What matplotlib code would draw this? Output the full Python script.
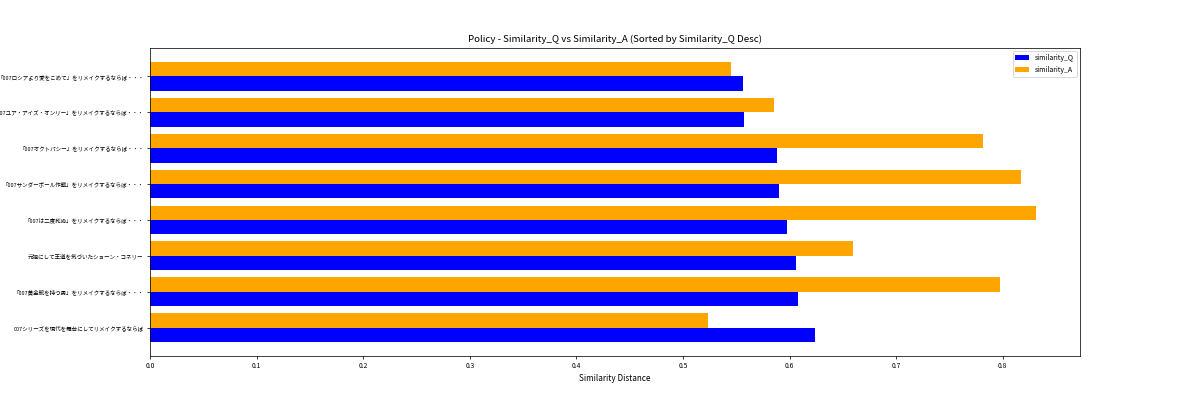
import matplotlib
matplotlib.use("Agg")
import matplotlib.pyplot as plt
import numpy as np

plt.rcParams['font.family'] = ['Noto Sans CJK JP', 'DejaVu Sans']

categories = [
    "007シリーズを現代を舞台にしてリメイクするならば",
    "「007黄金銃を持つ男」をリメイクするならば・・・",
    "元祖にして王道を気づいたショーン・コネリー",
    "「007は二度死ぬ」をリメイクするならば・・・",
    "「007サンダーボール作戦」をリメイクするならば・・・",
    "「007オクトパシー」をリメイクするならば・・・",
    "「007ユア・アイズ・オンリー」をリメイクするならば・・・",
    "「007ロシアより愛をこめて」をリメイクするならば・・・",
]
similarity_Q = [0.6241, 0.6082, 0.6063, 0.5981, 0.5903, 0.5878, 0.5577, 0.5559]
similarity_A = [0.5239, 0.7972, 0.6598, 0.8310, 0.8173, 0.7812, 0.5859, 0.5450]

fig, ax = plt.subplots(figsize=(18, 6), dpi=200/3)
y = np.arange(len(categories))
h = 0.4
ax.barh(y - h/2, similarity_Q, height=h, color='blue', label='similarity_Q')
ax.barh(y + h/2, similarity_A, height=h, color='orange', label='similarity_A')
ax.set_yticks(y)
ax.set_yticklabels(categories, fontsize=6.0)
ax.tick_params(axis='x', labelsize=7.2)
ax.set_xlabel('Similarity Distance', fontsize=8.8)
ax.set_title('Policy - Similarity_Q vs Similarity_A (Sorted by Similarity_Q Desc)', fontsize=10.5)
ax.legend(loc='upper right', fontsize=7.5)
fig.savefig('out.png', dpi=200/3)
